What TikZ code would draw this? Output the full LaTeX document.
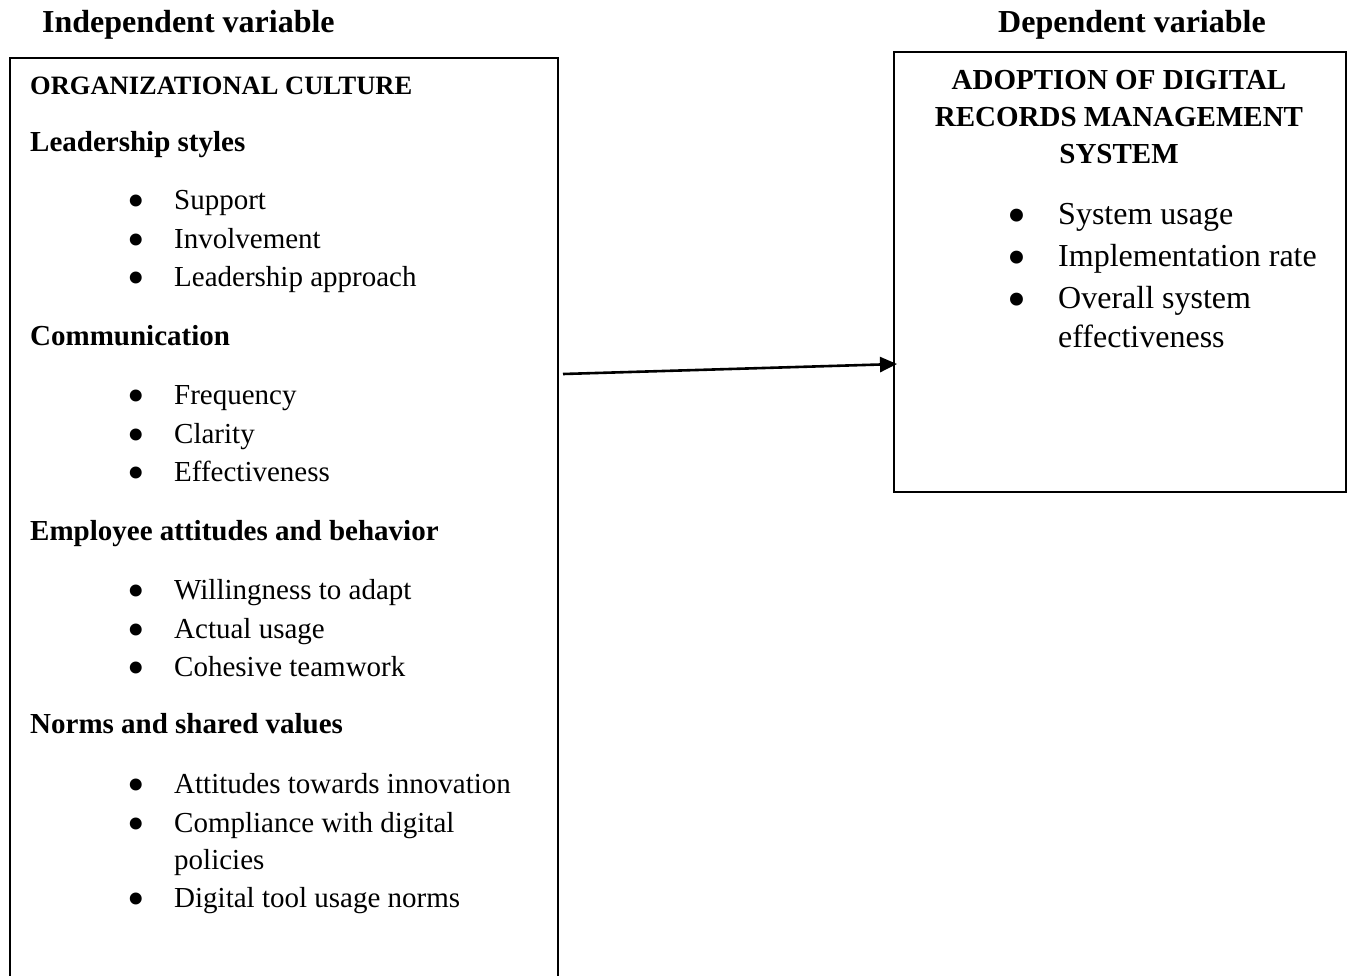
\documentclass[tikz,border=0pt]{standalone}
\usepackage{graphicx}
\usepackage{fontspec}
\setmainfont{Liberation Serif}
\usetikzlibrary{arrows.meta}
\newcommand\lbulletmark{\makebox[46.75pt][l]{\raisebox{-8.3pt}{\scalebox{1.72}{•}}}}
\newcommand\rbulletmark{\makebox[50.5pt][l]{\raisebox{-9.1pt}{\scalebox{1.69}{•}}}}
\begin{document}
\begin{tikzpicture}[x=1pt,y=-1pt,
  boxframe/.style={draw,line width=2pt,inner sep=0pt,anchor=north west},
  txt/.style={anchor=base west,inner sep=0pt,font=\fontsize{29}{35}\selectfont},
  rtxt/.style={anchor=base west,inner sep=0pt,font=\fontsize{32}{40}\selectfont},
  hd/.style={anchor=base west,inner sep=0pt,font=\fontsize{29}{35}\selectfont\bfseries},
  captext/.style={anchor=base west,inner sep=0pt,font=\fontsize{26.5}{32}\selectfont\bfseries},
  rhd/.style={anchor=base,inner sep=0pt,font=\fontsize{29}{35}\selectfont\bfseries},
  ttl/.style={anchor=base west,inner sep=0pt,font=\fontsize{32}{38}\selectfont\bfseries},
  arr/.style={line width=2.6pt,-{Triangle[length=17pt,width=15pt]}}]
\useasboundingbox (0,0) rectangle (1347,975);
\fill[white] (0,0) rectangle (1347,975);

\node[ttl] (hi) at (42,32) {Independent variable};
\node[ttl] (hdv) at (998,32) {Dependent variable};

\node[boxframe,minimum width=548pt,minimum height=940pt] (ind) at (9,57) {};
\node[boxframe,minimum width=452pt,minimum height=440pt] (dep) at (893,51) {};

\node[captext] (oc) at (30,94) {ORGANIZATIONAL CULTURE};

\node[hd] (h1) at (30,151) {Leadership styles};
\node[txt] (t11) at (127.25,209) {\lbulletmark Support};
\node[txt] (t12) at (127.25,248) {\lbulletmark Involvement};
\node[txt] (t13) at (127.25,286) {\lbulletmark Leadership approach};

\node[hd] (h2) at (30,345) {Communication};
\node[txt] (t21) at (127.25,404) {\lbulletmark Frequency};
\node[txt] (t22) at (127.25,443) {\lbulletmark Clarity};
\node[txt] (t23) at (127.25,481) {\lbulletmark Effectiveness};

\node[hd] (h3) at (30,540) {Employee attitudes and behavior};
\node[txt] (t31) at (127.25,599) {\lbulletmark Willingness to adapt};
\node[txt] (t32) at (127.25,638) {\lbulletmark Actual usage};
\node[txt] (t33) at (127.25,676) {\lbulletmark Cohesive teamwork};

\node[hd] (h4) at (30,733) {Norms and shared values};
\node[txt] (t41) at (127.25,793) {\lbulletmark Attitudes towards innovation};
\node[txt] (t42) at (127.25,832) {\lbulletmark Compliance with digital};
\node[txt] (t42b) at (174,869) {policies};
\node[txt] (t43) at (127.25,907) {\lbulletmark Digital tool usage norms};

\node[rhd] (r1) at (1119,89) {ADOPTION OF DIGITAL};
\node[rhd] (r2) at (1119,126) {RECORDS MANAGEMENT};
\node[rhd] (r3) at (1119,163) {SYSTEM};
\node[rtxt] (rt1) at (1007.5,224.5) {\rbulletmark System usage};
\node[rtxt] (rt2) at (1007.5,266.5) {\rbulletmark Implementation rate};
\node[rtxt] (rt3) at (1007.5,308.5) {\rbulletmark Overall system};
\node[rtxt] (rt3b) at (1058,347.5) {effectiveness};

\draw[arr] ([shift={(4,317)}]ind.north east) -- ([shift={(4,313)}]dep.north west);
\end{tikzpicture}
\end{document}
